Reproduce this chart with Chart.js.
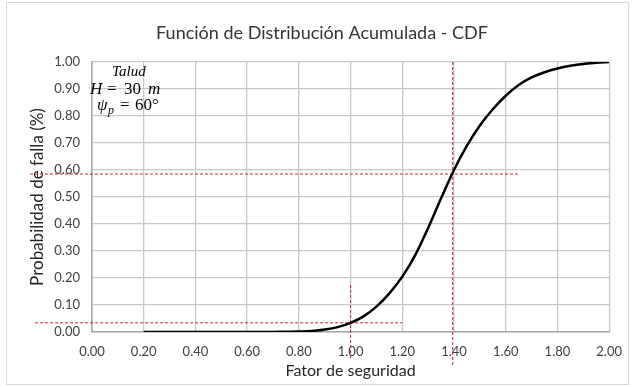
<!DOCTYPE html>
<html>
<head>
<meta charset="utf-8">
<script src="https://cdn.jsdelivr.net/npm/chart.js@4.4.1/dist/chart.umd.min.js"></script>
<style>
  html, body { margin: 0; padding: 0; background: #fff; }
  #wrap { width: 634px; height: 387px; }
</style>
</head>
<body>
<div id="wrap"><canvas id="cdf-chart" width="634" height="387"></canvas></div>
<script>
// CDF curve
const cdfX = [0.2, 0.4, 0.6, 0.7, 0.75, 0.8, 0.85, 0.9, 0.95, 1.0, 1.05, 1.1, 1.15, 1.2, 1.25, 1.3, 1.35, 1.4, 1.45, 1.5, 1.55, 1.6, 1.65, 1.7, 1.75, 1.8, 1.85, 1.9, 1.95, 2.0];
const cdfY = [0, 0, 0, 0, 0.001, 0.002, 0.004, 0.009, 0.018, 0.034, 0.058, 0.094, 0.143, 0.205, 0.285, 0.385, 0.495, 0.60, 0.69, 0.765, 0.825, 0.875, 0.915, 0.943, 0.962, 0.976, 0.986, 0.993, 0.997, 1.0];

// dashed reference lines (they run past the axes)
const lowHX = [-0.22, 1.2];
const lowHY = [0.034, 0.034];
const lowVX = [1.0, 1.0];
const lowVY = [0.174, -0.104];
const midHX = [-0.24, 1.65];
const midHY = [0.585, 0.585];
const midVX = [1.395, 1.395];
const midVY = [1.0, -0.13];

const xTicks = [0, 0.2, 0.4, 0.6, 0.8, 1.0, 1.2, 1.4, 1.6, 1.8, 2.0];
const yTicks = [0, 0.1, 0.2, 0.3, 0.4, 0.5, 0.6, 0.7, 0.8, 0.9, 1.0];

const chartTitle = 'Función de Distribución Acumulada - CDF';

function toPoints(xs, ys) {
    return xs.map((x, i) => ({ x: x, y: ys[i] }));
}

const dashColor = 'rgb(180, 45, 45)';

function dashed(xs, ys) {
    return {
        data: toPoints(xs, ys),
        borderColor: dashColor,
        borderWidth: 1,
        borderDash: [3, 2],
        pointRadius: 0,
        clip: false,
        fill: false
    };
}

const framePlugin = {
    id: 'frame',
    beforeDraw(chart) {
        const ctx = chart.ctx;
        ctx.save();
        ctx.fillStyle = '#fff';
        ctx.fillRect(0, 0, chart.width, chart.height);
        ctx.strokeStyle = '#d9d9d9';
        ctx.lineWidth = 1;
        ctx.strokeRect(6.5, 2.5, 622, 382);
        // title, centred on the whole frame like the original
        ctx.fillStyle = '#333';
        ctx.font = '18px Lato';
        ctx.textAlign = 'center';
        ctx.textBaseline = 'middle';
        ctx.fillText(chartTitle, 322, 33);
        ctx.restore();
    }
};

// the little "Talud" note in the top-left corner
const notePlugin = {
    id: 'note',
    afterDraw(chart) {
        const ctx = chart.ctx;
        ctx.save();
        ctx.fillStyle = '#000';
        ctx.textBaseline = 'alphabetic';
        ctx.font = 'italic 15px "Liberation Serif"';
        ctx.fillText('Talud', 112, 76);

        ctx.font = 'italic 17px "Liberation Serif"';
        ctx.fillText('H', 90, 94);
        ctx.font = '17px "Liberation Serif"';
        ctx.fillText('=', 107, 94);
        ctx.fillText('30', 124, 94);
        ctx.font = 'italic 17px "Liberation Serif"';
        ctx.fillText('m', 148, 94);

        ctx.fillText('\u03C8', 97, 110);
        ctx.font = 'italic 12px "Liberation Serif"';
        ctx.fillText('p', 108, 114);
        ctx.font = '17px "Liberation Serif"';
        ctx.fillText('=', 120, 110);
        ctx.fillText('60\u00B0', 135, 110);
        ctx.restore();
    }
};

const ctx = document.getElementById('cdf-chart').getContext('2d');

new Chart(ctx, {
    type: 'line',
    data: {
        datasets: [
            {
                data: toPoints(cdfX, cdfY),
                borderColor: '#000',
                borderWidth: 2.5,
                pointRadius: 0,
                cubicInterpolationMode: 'monotone',
                fill: false
            },
            dashed(lowHX, lowHY),
            dashed(lowVX, lowVY),
            dashed(midHX, midHY),
            dashed(midVX, midVY)
        ]
    },
    options: {
        responsive: false,
        animation: false,
        layout: { padding: { left: 0, right: 23, top: 62, bottom: 0 } },
        plugins: {
            legend: { display: false },
            tooltip: { enabled: false },
            title: { display: false }
        },
        scales: {
            x: {
                type: 'linear',
                min: 0,
                max: 2,
                afterBuildTicks: (axis) => { axis.ticks = xTicks.map(v => ({ value: v })); },
                afterFit: (axis) => { axis.height = 55; },
                grid: { color: '#c8c8c8', lineWidth: 1.3, drawTicks: false },
                border: { color: '#a6a6a6', width: 1.5 },
                ticks: {
                    padding: 12,
                    color: '#404040',
                    font: { family: 'Lato', size: 13 },
                    callback: (v) => Number(v).toFixed(2)
                },
                title: {
                    display: true,
                    text: 'Fator de seguridad',
                    color: '#262626',
                    font: { family: 'Lato', size: 16 },
                    padding: { top: 0, bottom: 7 }
                }
            },
            y: {
                type: 'linear',
                min: 0,
                max: 1,
                afterBuildTicks: (axis) => { axis.ticks = yTicks.map(v => ({ value: v })); },
                afterFit: (axis) => { axis.width = 92; },
                grid: { color: '#c8c8c8', lineWidth: 1.3, drawTicks: false },
                border: { color: '#a6a6a6', width: 1.5 },
                ticks: {
                    padding: 12,
                    color: '#404040',
                    font: { family: 'Lato', size: 13 },
                    callback: (v) => Number(v).toFixed(2)
                },
                title: {
                    display: true,
                    text: 'Probabilidad de falla (%)',
                    color: '#262626',
                    font: { family: 'Lato', size: 17 },
                    padding: { top: 27, bottom: 0 }
                }
            }
        }
    },
    plugins: [framePlugin, notePlugin]
});
</script>
</body>
</html>
